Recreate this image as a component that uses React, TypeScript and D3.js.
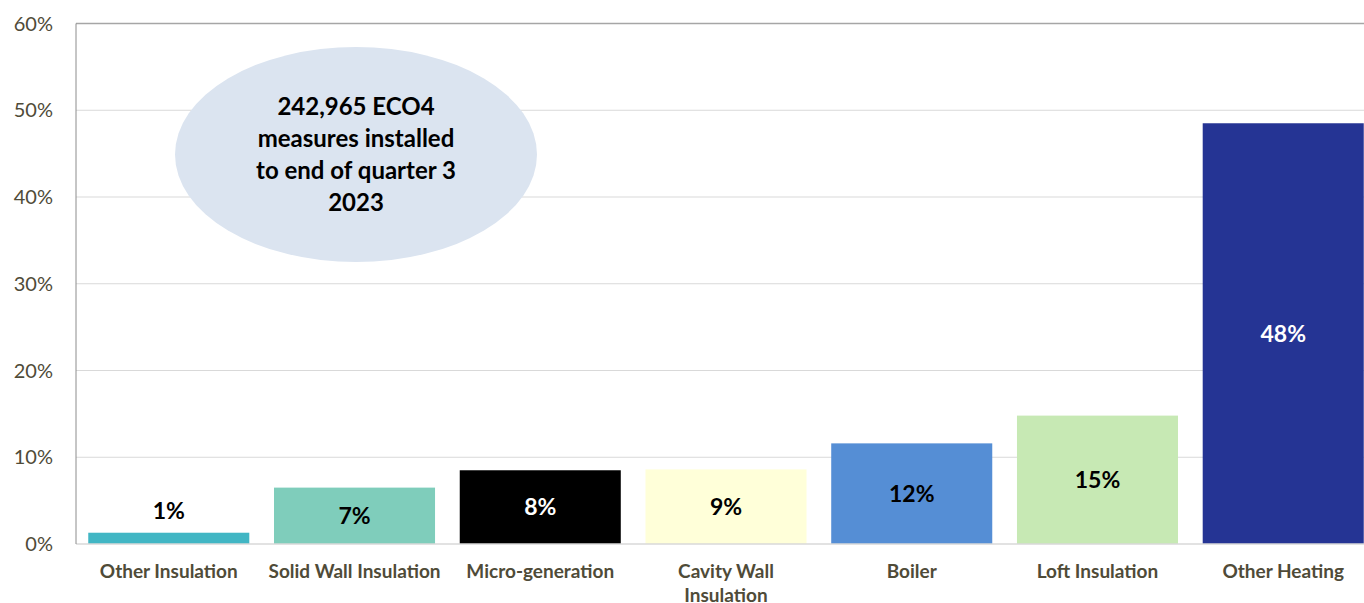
import React from "react";
import * as d3 from "d3";

const categories = ["Other Insulation", "Solid Wall Insulation", "Micro-generation", "Cavity Wall Insulation", "Boiler", "Loft Insulation", "Other Heating"];
const categoryLines = [["Other Insulation"], ["Solid Wall Insulation"], ["Micro-generation"], ["Cavity Wall", "Insulation"], ["Boiler"], ["Loft Insulation"], ["Other Heating"]];
const values = [1.3, 6.5, 8.5, 8.6, 11.6, 14.8, 48.5];
const valueLabels = ["1%", "7%", "8%", "9%", "12%", "15%", "48%"];
const colors = ["#41b6c4", "#7fcdbb", "#000000", "#ffffd9", "#558ed5", "#c7e9b4", "#253494"];
const labelColors = ["#000", "#000", "#fff", "#000", "#000", "#000", "#fff"];
const yTicks = [0, 10, 20, 30, 40, 50, 60];
const calloutLines = ["242,965 ECO4", "measures installed", "to end of quarter 3", "2023"];

const W = 1364, H = 603;
const left = 76, right = 1376, top = 23.5, bottom = 544;
const FONT = "Lato, 'Open Sans', sans-serif";
const AXIS_COLOR = "#4f4b38";

export default function App() {
  const x = d3.scaleBand<string>().domain(categories).range([left, right]).paddingInner(0.133).paddingOuter(0.066);
  const y = d3.scaleLinear().domain([0, 60]).range([bottom, top]);
  return (
    <svg width={W} height={H} style={{ position: "absolute", left: 0, top: 0, background: "#fff" }} fontFamily={FONT}>
      {yTicks.map((t) => (
        <g key={t}>
          {t > 0 && t < 60 && <line x1={left} x2={W} y1={y(t)} y2={y(t)} stroke="#d9d9d9" strokeWidth={1} />}
          <text x={53} y={y(t)} dy="0.35em" textAnchor="end" fontSize={20} fill={AXIS_COLOR}>{t}%</text>
        </g>
      ))}
      <line x1={left} x2={W} y1={y(60)} y2={y(60)} stroke="#a6a6a6" strokeWidth={1.5} />
      {categories.map((c, i) => (
        <rect key={c} x={x(c)} y={y(values[i])} width={x.bandwidth()} height={y(0) - y(values[i])} fill={colors[i]} />
      ))}
      <line x1={left} x2={W} y1={y(0)} y2={y(0)} stroke="#d9d9d9" strokeWidth={1.5} />
      <line x1={left} x2={left} y1={y(60)} y2={y(0)} stroke="#8c8c8c" strokeWidth={1} />
      {categories.map((c, i) => {
        const cx = (x(c) as number) + x.bandwidth() / 2;
        const small = y(0) - y(values[i]) < 30;
        const ly = small ? y(values[i]) - 22 : (y(values[i]) + y(0)) / 2;
        return (
          <text key={c + "v"} x={cx} y={ly} dy="0.35em" textAnchor="middle" fontSize={23} fontWeight={700} fill={small ? "#000" : labelColors[i]}>
            {valueLabels[i]}
          </text>
        );
      })}
      {categories.map((c, i) => {
        const cx = (x(c) as number) + x.bandwidth() / 2;
        return (
          <text key={c + "l"} x={cx} y={571} textAnchor="middle" fontSize={19} fontWeight={700} fill={AXIS_COLOR}>
            {categoryLines[i].map((ln, k) => (
              <tspan key={k} x={cx} dy={k === 0 ? "0.35em" : 24}>{ln}</tspan>
            ))}
          </text>
        );
      })}
      <ellipse cx={356} cy={154.5} rx={181} ry={107.5} fill="#dbe4f0" />
      <text x={356} y={107} textAnchor="middle" fontSize={24} fontWeight={700} fill="#000">
        {calloutLines.map((ln, k) => (
          <tspan key={k} x={356} dy={k === 0 ? "0.35em" : 32}>{ln}</tspan>
        ))}
      </text>
    </svg>
  );
}
